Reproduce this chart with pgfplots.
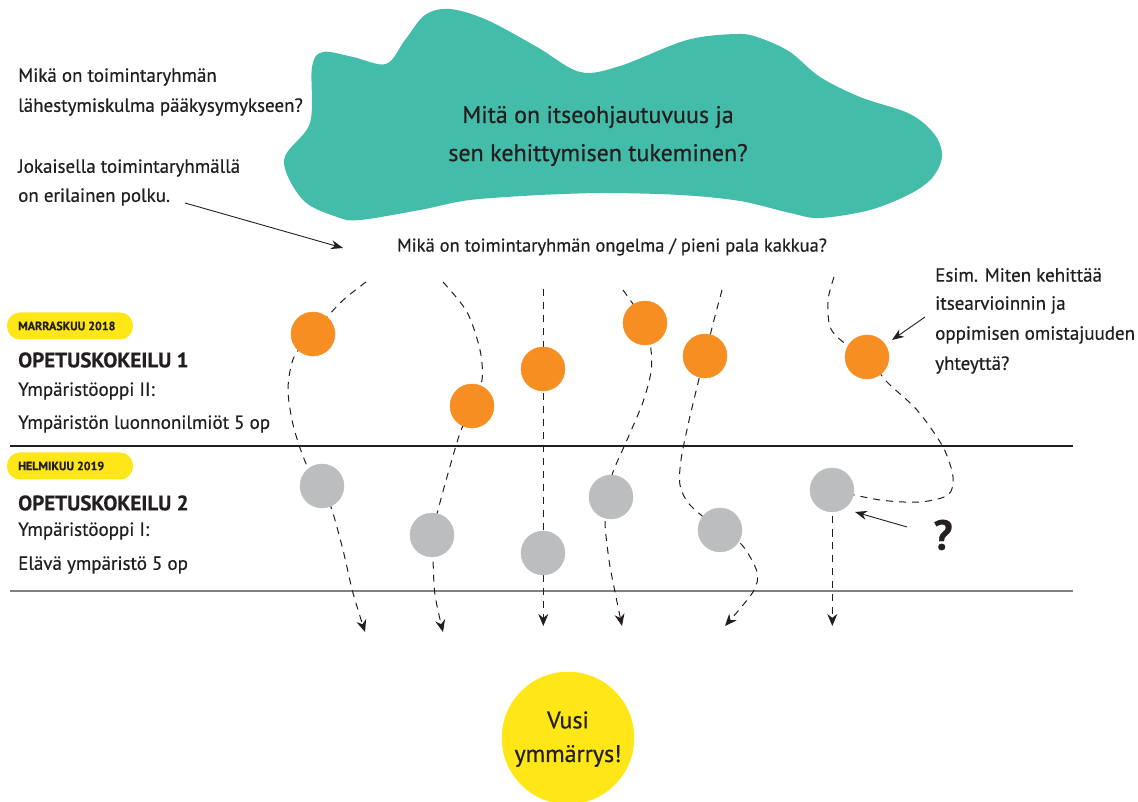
\documentclass[border=0pt]{standalone}
\usepackage{pgfplots}
\pgfplotsset{compat=1.18}
\usepackage{fontspec}
\setmainfont{PT Sans}[FakeBold=0.6]
\usetikzlibrary{arrows.meta}
\definecolor{cloud}{HTML}{43BDA9}
\definecolor{orng}{HTML}{F68E21}
\definecolor{gry}{HTML}{BCBDBF}
\definecolor{yel}{HTML}{FFE617}
\definecolor{ink}{HTML}{231F20}
\newcommand{\fs}{\fontsize{19}{22}\selectfont}
\newcommand{\fb}{\fontsize{24}{28}\selectfont}
\begin{document}
\begin{tikzpicture}
\begin{axis}[scale only axis, width=1138pt, height=802pt,
  xmin=0, xmax=1138, ymin=0, ymax=802, y dir=reverse,
  hide axis, clip=true, clip marker paths=true, set layers]
% cloud
\addplot[fill=cloud, draw=none, smooth, tension=0.55] coordinates {
 (540,195) (603,193) (680,195) (740,201) (790,213) (820,218) (870,210) (910,194) (932,178) (942,157) (935,135) (910,114) (860,97) (820,77) (790,52) (760,38) (737,34) (687,40) (620,66) (580,72) (537,47) (487,20) (450,9) (425,15) (405,40) (386,64) (353,57) (323,52) (312,67) (310,123) (284,160) (303,200) (337,217) (360,220) (420,210) (470,200) (540,195)};
% separator lines
\addplot[ink, line width=1.1pt] coordinates {(10,446) (1073,446)};
\addplot[black!50, line width=1.6pt] coordinates {(10,591) (1073,591)};
% dashed paths
\pgfplotsset{pathstyle/.style={ink, line width=1pt, dash pattern=on 7pt off 6pt, smooth, tension=0.5}}
\addplot[pathstyle, -{Stealth[length=12pt,width=10pt]}] coordinates {(366,282) (340,303) (313,334) (294,357) (288,388) (292,420) (300,448) (310,472) (322,486) (332,510) (343,550) (353,593) (365,632)};
\addplot[pathstyle, -{Stealth[length=12pt,width=10pt]}] coordinates {(443,282) (467,312) (480,350) (482,380) (472,406) (460,433) (447,477) (438,510) (432,535) (433,560) (435,595) (443,632)};
\addplot[pathstyle, -{Stealth[length=12pt,width=10pt]}] coordinates {(543.3,289) (543.3,626)};
\addplot[pathstyle, -{Stealth[length=12pt,width=10pt]}] coordinates {(623,290) (645,323) (651,350) (651,372) (643,402) (627,440) (612,475) (611,497) (605,520) (609,560) (615,592) (622,626)};
\addplot[pathstyle, -{Stealth[length=12pt,width=10pt]}] coordinates {(722,290) (714,320) (705,356) (698,383) (688,425) (681,460) (680,485) (690,505) (720,530) (742,545) (757,572) (753,592) (725,626)};
\addplot[pathstyle] coordinates {(834,277) (828,300) (830,327) (843,342) (867,357) (887,382) (917,410) (943,447) (953,477) (948,495) (920,502) (880,500) (832,490)};
\addplot[pathstyle, -{Stealth[length=12pt,width=10pt]}] coordinates {(832.3,490) (832.3,626)};
% solid arrows
\addplot[ink, line width=0.9pt, -{Stealth[length=12pt,width=9pt]}] coordinates {(185,203) (343,248)};
\addplot[ink, line width=0.9pt, -{Stealth[length=12pt,width=9pt]}] coordinates {(925,317) (892,340)};
\addplot[ink, line width=0.9pt, -{Stealth[length=12pt,width=9pt]}] coordinates {(907,527) (855,512)};
% circles
\addplot[orng, only marks, mark=*, mark size=22pt, mark options={solid, fill=orng, draw=orng}] coordinates {(313,334) (472,406) (543,369) (645,323) (705,356) (867,357)};
\addplot[gry, only marks, mark=*, mark size=22pt, mark options={solid, fill=gry, draw=gry}] coordinates {(322,486) (432,535) (543,553) (611,497) (720,530) (832,490)};
\addplot[yel, only marks, mark=*, mark size=66pt, mark options={solid, fill=yel, draw=yel}] coordinates {(568,738)};
\begin{pgfonlayer}{axis foreground}
% pills
\node[fill=yel, rounded corners=13pt, minimum width=126pt, minimum height=27pt, inner sep=0pt] at (axis cs:70,326) {};
\node[fill=yel, rounded corners=13pt, minimum width=126pt, minimum height=27pt, inner sep=0pt] at (axis cs:70,466) {};
% texts
\begin{scope}[every node/.style={text=ink, inner sep=0pt}]
\node[anchor=west, font=\fs] at (axis cs:18,77) {Mikä on toimintaryhmän};
\node[anchor=west, font=\fs] at (axis cs:18,107) {lähestymiskulma pääkysymykseen?};
\node[anchor=west, font=\fs] at (axis cs:18,168) {Jokaisella toimintaryhmällä};
\node[anchor=west, font=\fs] at (axis cs:18,197) {on erilainen polku.};
\node[font=\fontsize{18.5}{22}\selectfont] at (axis cs:612,247) {Mikä on toimintaryhmän ongelma / pieni pala kakkua?};
\node[font=\fb] at (axis cs:598,117) {Mitä on itseohjautuvuus ja};
\node[font=\fb] at (axis cs:598,155) {sen kehittymisen tukeminen?};
\node[anchor=west, font=\fs] at (axis cs:935,275) {Esim. Miten kehittää};
\node[anchor=west, font=\fs] at (axis cs:935,305) {itsearvioinnin ja};
\node[anchor=west, font=\fs] at (axis cs:935,335) {oppimisen omistajuuden};
\node[anchor=west, font=\fs] at (axis cs:935,365) {yhteyttä?};
\node[font=\fontsize{42}{46}\selectfont\bfseries] at (axis cs:943,535) {?};
\node[anchor=west, font=\fontsize{12}{14}\selectfont\bfseries] at (axis cs:18,326) {MARRASKUU 2018};
\node[anchor=west, font=\fontsize{12}{14}\selectfont\bfseries] at (axis cs:18,466) {HELMIKUU 2019};
\node[anchor=west, font=\fontsize{21}{24}\selectfont\bfseries] at (axis cs:18,360) {OPETUSKOKEILU 1};
\node[anchor=west, font=\fs] at (axis cs:18,391) {Ympäristöoppi II:};
\node[anchor=west, font=\fs] at (axis cs:18,424) {Ympäristön luonnonilmiöt 5 op};
\node[anchor=west, font=\fontsize{21}{24}\selectfont\bfseries] at (axis cs:18,503) {OPETUSKOKEILU 2};
\node[anchor=west, font=\fs] at (axis cs:18,531) {Ympäristöoppi I:};
\node[anchor=west, font=\fs] at (axis cs:18,565) {Elävä ympäristö 5 op};
\node[font=\fb] at (axis cs:568,720) {Vusi};
\node[font=\fb] at (axis cs:568,756) {ymmärrys!};
\end{scope}
\end{pgfonlayer}
\end{axis}
\pgfresetboundingbox
\path[use as bounding box] (current axis.south west) rectangle (current axis.north east);
\end{tikzpicture}
\end{document}
